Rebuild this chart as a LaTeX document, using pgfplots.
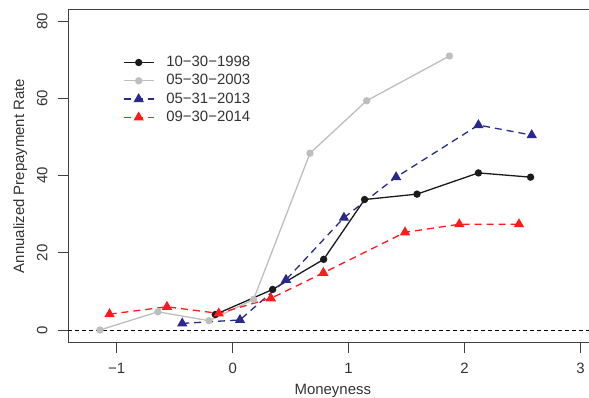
\documentclass[border=0pt]{standalone}
\usepackage{fontspec}
\setmainfont{Liberation Sans}
\usepackage{pgfplots}
\pgfplotsset{compat=1.18}
\definecolor{rblack}{HTML}{1A1A1A}
\definecolor{rgray}{HTML}{BEBEBE}
\definecolor{rblue}{HTML}{2A2A8C}
\definecolor{rred}{HTML}{FF1A1A}
\definecolor{axgray}{HTML}{404040}
\begin{document}
\begin{tikzpicture}
\begin{axis}[
  at={(68.3bp,55.3bp)}, anchor=south west,
  scale only axis, width=520.7bp, height=333.4bp,
  xmin=-1.418, xmax=3.074, ymin=-3.3, ymax=83.1,
  axis x line*=bottom, axis y line*=left,
  axis line style={-, draw=axgray, line width=0.9bp},
  every tick/.style={draw=axgray, line width=0.9bp},
  tick align=outside, major tick length=10bp,
  xtick={-1,0,1,2,3}, xticklabels={−1,0,1,2,3},
  ytick={0,20,40,60,80}, yticklabels={0,20,40,60,80},
  tick label style={font=\fontsize{15}{18}\selectfont, text=black!80},
  xticklabel style={anchor=base, yshift=-20.6bp},
  yticklabel style={rotate=90, anchor=base, yshift=11bp},
  xlabel={Moneyness}, ylabel={Annualized Prepayment Rate},
  label style={font=\fontsize{15}{18}\selectfont, text=black!80},
  xlabel style={at={(axis description cs:0.508,-0.155)}, anchor=base},
  ylabel style={at={(axis description cs:-0.085,0.5)}, anchor=base},
  legend style={draw=none, fill=none, at={(axis description cs:0.099,0.868)}, anchor=north west,
    font=\fontsize{15}{18}\selectfont, text=black!80, row sep=4.3bp,
    nodes={inner sep=0pt, text height=11bp, text depth=3bp}},
  legend cell align=left,
  legend image code/.code={\draw[mark repeat=2,mark phase=2,#1] plot coordinates {(0bp,0bp)(15bp,0bp)(30bp,0bp)};
    \path (42bp,0bp);},
]
\addplot[forget plot, black, line width=0.8bp, dash pattern=on 4bp off 3bp] coordinates {(-1.418,0) (3.074,0)};
\addplot[rblack, line width=1.3bp, mark=*, mark size=3bp, mark options={solid, fill=rblack, draw=rblack}] coordinates {
(-0.15,4.0) (0.345,10.5) (0.785,18.3) (1.138,33.8) (1.59,35.2) (2.12,40.7) (2.57,39.6)};
\addlegendentry{10−30−1998}
\addplot[rgray, line width=1.3bp, mark=*, mark size=3bp, mark options={solid, fill=rgray, draw=rgray}] coordinates {
(-1.145,0) (-0.645,4.7) (-0.205,2.4) (0.18,7.9) (0.667,45.8) (1.156,59.4) (1.87,71.0)};
\addlegendentry{05−30−2003}
\addplot[rblue, line width=1.3bp, dash pattern=on 7bp off 5bp, mark=triangle*, mark size=4.7bp, mark options={solid, fill=rblue, draw=rblue}] coordinates {
(-0.435,1.7) (0.063,2.6) (0.46,13.0) (0.96,29.1) (1.41,39.6) (2.12,53.1) (2.58,50.5)};
\addlegendentry{05−31−2013}
\addplot[rred, line width=1.3bp, dash pattern=on 7bp off 5bp, mark=triangle*, mark size=4.7bp, mark options={solid, fill=rred, draw=rred}] coordinates {
(-1.062,4.1) (-0.567,6.0) (-0.12,4.3) (0.33,8.2) (0.782,14.8) (1.487,25.3) (1.955,27.4) (2.47,27.4)};
\addlegendentry{09−30−2014}
\draw[axgray, line width=0.9bp] (rel axis cs:0,1) -- (rel axis cs:1,1);
\end{axis}
\pgfresetboundingbox
\useasboundingbox (0,0) rectangle (589bp,398bp);
\end{tikzpicture}
\end{document}
